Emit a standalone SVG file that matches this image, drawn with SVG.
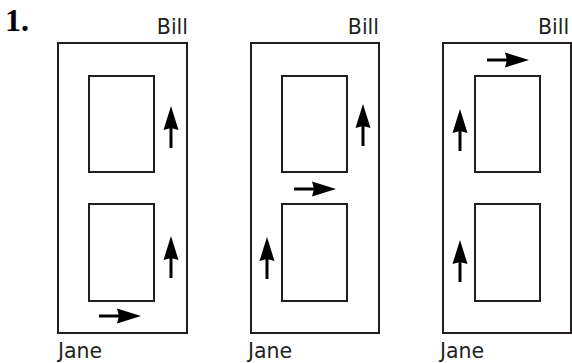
<svg xmlns="http://www.w3.org/2000/svg" xmlns:xlink="http://www.w3.org/1999/xlink" width="572" height="363" viewBox="0 0 572 363">
<style>
.box{fill:none;stroke:#231f20;stroke-width:2}
.lbl{font-family:"DejaVu Sans",sans-serif;font-size:20.5px;fill:#231f20}
.num{font-family:"Liberation Serif",serif;font-size:32px;font-weight:bold;fill:#000}
</style>
<defs>
<g id="up">
<path d="M0,0 L7.5,24 L0,22 L-7.5,24 Z" fill="#000"/>
<line x1="0" y1="21" x2="0" y2="42" stroke="#000" stroke-width="3"/>
</g>
</defs>
<text class="num" x="5" y="31">1.</text>
<g id="panel1">
<rect class="box" x="58" y="43" width="129" height="290"/>
<rect class="box" x="89" y="76" width="65" height="96"/>
<rect class="box" x="89" y="204" width="65" height="97"/>
<text class="lbl" x="188" y="34" text-anchor="end">Bill</text>
<text class="lbl" x="58" y="358">Jane</text>
</g>
<g id="panel2">
<rect class="box" x="251" y="43" width="128" height="290"/>
<rect class="box" x="282" y="76" width="65" height="96"/>
<rect class="box" x="282" y="204" width="65" height="97"/>
<text class="lbl" x="379" y="34" text-anchor="end">Bill</text>
<text class="lbl" x="248" y="358">Jane</text>
</g>
<g id="panel3">
<rect class="box" x="443" y="43" width="128" height="290"/>
<rect class="box" x="475" y="76" width="65" height="96"/>
<rect class="box" x="475" y="204" width="65" height="97"/>
<text class="lbl" x="538" y="34">Bill</text>
<text class="lbl" x="440" y="358">Jane</text>
</g>
<g id="arrows">
<use xlink:href="#up" transform="translate(171,106)"/>
<use xlink:href="#up" transform="translate(171,236)"/>
<use xlink:href="#up" transform="translate(141,316) rotate(90)"/>
<use xlink:href="#up" transform="translate(363,104)"/>
<use xlink:href="#up" transform="translate(267,237)"/>
<use xlink:href="#up" transform="translate(336,189) rotate(90)"/>
<use xlink:href="#up" transform="translate(460,109)"/>
<use xlink:href="#up" transform="translate(460,240)"/>
<use xlink:href="#up" transform="translate(529,60) rotate(90)"/>
</g>
</svg>
